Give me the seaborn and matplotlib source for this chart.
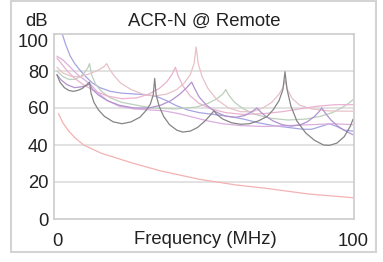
import matplotlib
matplotlib.use("Agg")
import matplotlib.pyplot as plt
import seaborn as sns
import pandas as pd
from matplotlib.patches import Rectangle

# ---- data ----
red_f = [0.5, 2, 4, 6, 9, 15, 20, 26, 35, 48, 60, 71, 85, 100]
red_db = [57, 52, 47.5, 44, 40, 35.5, 33, 30, 26, 21.5, 18.5, 16.5, 13.5, 11.5]

dgray_f = [0, 1, 2.5, 4, 5.5, 7, 8.5, 10, 11,
           11.5, 12.5, 14, 16, 19, 22, 25, 28, 30, 31.5, 32.5, 33,
           33.5, 34.5, 36, 38, 40.5, 42.5, 45, 47.5, 50, 52, 53,
           54, 56, 59, 62, 65, 68, 71, 73, 75, 76.3, 77,
           77.7, 79, 81, 84, 87, 90, 92, 94.5, 97, 99, 100]
dgray_db = [78, 74, 71, 69.5, 69, 69.5, 70.5, 72.5, 74,
            68, 63, 59, 55.5, 52.5, 51.5, 52.5, 55, 58.5, 62, 67, 76,
            67, 61, 55.5, 51, 48, 47, 47.5, 49.5, 53, 56.5, 58.5,
            56.5, 54, 52, 51.2, 51.5, 53, 55.5, 59, 64, 70, 79.6,
            70, 61, 53, 46.5, 42.5, 40, 39.8, 41, 44.5, 50, 54]

green_f = [0, 2, 4, 6, 8, 9.5, 10.5, 11,
           11.7, 13, 15, 18, 22, 27, 32, 40, 47, 51, 54, 56, 57,
           58, 60, 63, 67, 72, 78, 84, 89, 93, 96, 98.5, 100]
green_db = [80, 77, 75.5, 75.5, 77, 79.5, 82, 84,
            78, 73, 69, 65.5, 63, 61.5, 60, 59.5, 60.5, 62.5, 65, 67.5, 70,
            67, 63, 59.5, 56.5, 54.5, 53.5, 54, 55.5, 57.5, 60, 62.5, 64.5]

pink_f = [0, 1.5, 3.5, 6, 9, 13, 17, 22, 27, 31, 34.5, 37, 38.8, 40,
          41, 42.5, 45, 48, 52, 57, 63, 70, 76, 82, 88, 94, 100]
pink_db = [87, 84, 80, 76, 72.5, 69, 66.5, 65, 65.5, 67.5, 70.5, 74, 78, 82,
           77, 72, 66.5, 62.5, 59.5, 57.5, 56.5, 57, 58, 59.5, 61, 61.8, 61.8]

lpink_f = [0, 2, 5, 8, 11, 14, 16, 16.8,
           17.6, 19, 21.5, 25, 29, 33, 37, 40.5, 43, 45, 46.3, 47,
           47.7, 49, 51, 54, 58, 62, 66, 69.5, 72.5, 75, 76.3, 77,
           77.8, 79.5, 82, 86, 91, 96, 100]
lpink_db = [82, 79, 77, 77, 78.5, 80.5, 82.5, 84,
            81.5, 78, 73.5, 70, 67.5, 66.5, 67.5, 70, 73.5, 78, 84, 93,
            84, 77, 70.5, 64.5, 60, 58, 58, 60, 63, 67.5, 71, 75,
            70, 65, 61.5, 59.5, 58.5, 58.3, 58.3]

purple_f = [0, 1.5, 3.5, 6, 8.5, 10, 11,
            12, 14, 17, 21, 26, 31, 35, 38.5, 41.5, 43.8, 45.5,
            46.5, 48, 50.5, 53.5, 57, 60.5, 63.5, 65.8, 67.5,
            68.7, 70.5, 73, 76, 79, 82, 84.5, 87, 88.5, 89.4,
            90.5, 92.5, 95, 97.5, 100]
purple_db = [78, 75, 72.5, 71, 71.5, 72.2, 73,
             70, 67, 64, 61.5, 60, 60, 61.5, 64, 67.5, 71, 74,
             70.5, 66, 61.5, 58, 55.5, 55, 56, 58, 60,
             58, 55.5, 53, 51, 50.2, 50.8, 52.5, 55.5, 58, 60,
             57.5, 53.5, 50, 47.5, 45.5]

blue_f = [1.8, 3, 4.5, 6, 8, 10, 12, 14.5, 18, 22, 27, 31, 34, 37, 40, 44, 48, 53, 58, 63, 68, 73, 78, 83, 86, 89,
          92, 94.5, 97, 100]
blue_db = [100, 94, 88, 84, 80, 76.5, 73.5, 71, 69, 68, 67.5, 67, 66, 64, 61.5, 59, 57.5, 56.5, 55.5, 54, 52, 50.5,
           49.5, 48.5, 48.5, 50, 51.5, 50, 48, 47.5]

mag_f = [0, 2, 4.5, 7, 9.5, 11.5, 14, 17, 21, 26, 31, 36, 41, 46, 51, 56, 62, 70, 78, 86, 93, 100]
mag_db = [88, 86, 82, 78, 75, 72.5, 68, 64, 61, 59.5, 59, 58.5, 57, 55, 53, 51.5, 50.5, 50, 50.5, 51, 51.5, 51]

series = [
    ("red", red_f, red_db, "#f4b2b2"),
    ("blue", blue_f, blue_db, "#a4a4e4"),
    ("mag", mag_f, mag_db, "#dcaedf"),
    ("green", green_f, green_db, "#bccfbc"),
    ("lpink", lpink_f, lpink_db, "#e6c2c8"),
    ("pink", pink_f, pink_db, "#eab2cf"),
    ("purple", purple_f, purple_db, "#b292cf"),
    ("dgray", dgray_f, dgray_db, "#858585"),
]

x_ticks = [0, 100]
y_ticks = [0, 20, 40, 60, 80, 100]

# ---- plot ----
sns.set_style("white")
plt.rcParams["font.family"] = ["Liberation Sans", "DejaVu Sans"]
FS = 13.3

fig = plt.figure(figsize=(3.83, 2.62), dpi=100)
W, H = 383, 262
ax = fig.add_axes([54 / W, (H - 219) / H, 300 / W, 185 / H])

frames = []
for name, f, d, c in series:
    frames.append(pd.DataFrame({"f": f, "db": d, "s": name}))
df = pd.concat(frames, ignore_index=True)
palette = {name: c for name, _, _, c in series}
sns.lineplot(data=df, x="f", y="db", hue="s", palette=palette, estimator=None,
             sort=False, linewidth=0.9, legend=False, ax=ax)

ax.set_xlim(-1.0, 100.3)
ax.set_ylim(0, 100)
ax.set_yticks(y_ticks)
ax.set_xticks(x_ticks)
ax.set_yticklabels([str(v) for v in y_ticks], fontsize=FS, color="#222222")
ax.set_xticklabels([str(v) for v in x_ticks], fontsize=FS, color="#222222")
ax.tick_params(axis="both", length=0)
ax.tick_params(axis="y", pad=4)
ax.tick_params(axis="x", pad=10)
for lab in ax.get_yticklabels():
    if lab.get_text() == "100":
        lab.set_va("top")
ax.set_xlabel("")
ax.set_ylabel("")
for y in [20, 40, 60, 80]:
    ax.axhline(y, color="#e2e2e2", lw=1.4, zorder=0)
for sp in ax.spines.values():
    sp.set_color("#cccccc")
    sp.set_linewidth(1.2)

fig.text(205 / W, 1 - 239 / H, "Frequency (MHz)", ha="center", va="center", fontsize=FS, color="#222222")
fig.text(204 / W, 1 - 21 / H, "ACR-N @ Remote", ha="center", va="center", fontsize=FS, color="#222222")
fig.text(36 / W, 1 - 21 / H, "dB", ha="center", va="center", fontsize=FS, color="#222222")

fig.patches.append(Rectangle((11 / W, (H - 252) / H), 365 / W, 251 / H, transform=fig.transFigure,
                             fill=False, edgecolor="#d4d4d4", lw=1.5))

fig.savefig("out.png", dpi=100)
